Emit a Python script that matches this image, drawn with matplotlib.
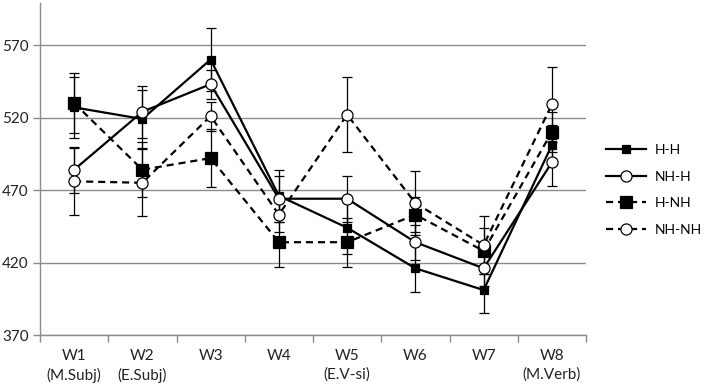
import matplotlib
matplotlib.use("Agg")
import matplotlib.pyplot as plt
import numpy as np

plt.rcParams['font.family'] = ['Lato', 'DejaVu Sans']

categories = ["W1\n(M.Subj)", "W2\n(E.Subj)", "W3", "W4", "W5\n(E.V-si)", "W6", "W7", "W8\n(M.Verb)"]
series_names = ["H-H", "NH-H", "H-NH", "NH-NH"]
hh = [527, 519, 560, 466, 444, 416, 401, 501]
nhh = [484, 524, 543, 464, 464, 434, 416, 489]
hnh = [530, 484, 492, 434, 434, 453, 428, 510]
nhnh = [476, 475, 521, 453, 522, 461, 432, 529]
hh_err = [21, 20, 22, 18, 18, 16, 16, 14]
nhh_err = [16, 18, 10, 16, 16, 12, 12, 16]
hnh_err = [21, 19, 20, 17, 17, 12, 16, 14]
nhnh_err = [23, 23, 10, 12, 26, 22, 20, 26]
yticks = [370, 420, 470, 520, 570]

fig = plt.figure(figsize=(7.08, 3.84), dpi=100)
ax = fig.add_axes([40/708, 1-335/384, 546/708, 332/384])

x = np.arange(len(categories))
grey = "#8c8c8c"
dash = (0, (3.2, 2.2))
styles = [
    (hh, hh_err, '-', 's', 'black', 6),
    (nhh, nhh_err, '-', 'o', 'white', 8),
    (hnh, hnh_err, dash, 's', 'black', 8),
    (nhnh, nhnh_err, dash, 'o', 'white', 8),
]
for name, (vals, err, ls, mk, fc, ms) in zip(series_names, styles):
    ax.errorbar(x, vals, yerr=err, fmt='none', ecolor='black', elinewidth=0.9,
                capsize=3.5, capthick=0.9, zorder=2)
    ax.plot(x, vals, linestyle=ls, color='black', linewidth=1.6, marker=mk,
            markersize=ms, markerfacecolor=fc, markeredgecolor='black',
            markeredgewidth=0.9, label=name, zorder=3)

ax.set_xlim(-0.5, 7.5)
ax.set_ylim(370, 599)
ax.set_yticks(yticks)
ax.set_yticklabels([str(v) for v in yticks], fontsize=11, color='#222222')
ax.set_xticks(x)
ax.set_xticklabels(categories, fontsize=11, color='#222222', linespacing=1.4)
ax.set_xticks(np.arange(-0.5, 8.0, 1.0), minor=True)
ax.tick_params(axis='x', which='major', length=0, pad=10)
ax.tick_params(axis='x', which='minor', length=5, color=grey, width=1, direction='out')
ax.tick_params(axis='y', length=5, color=grey, width=1, direction='out', pad=3)
ax.grid(axis='y', color=grey, linewidth=1)
ax.set_axisbelow(True)
for s in ['top', 'right']:
    ax.spines[s].set_visible(False)
for s in ['left', 'bottom']:
    ax.spines[s].set_color(grey)
    ax.spines[s].set_linewidth(1)

leg = fig.legend(loc='center left', bbox_to_anchor=(606/708, 1-190/384), frameon=False,
                 fontsize=10, handlelength=2.9, labelspacing=1.05, handletextpad=0.6,
                 borderpad=0, borderaxespad=0)

fig.savefig("out.png", dpi=100)
